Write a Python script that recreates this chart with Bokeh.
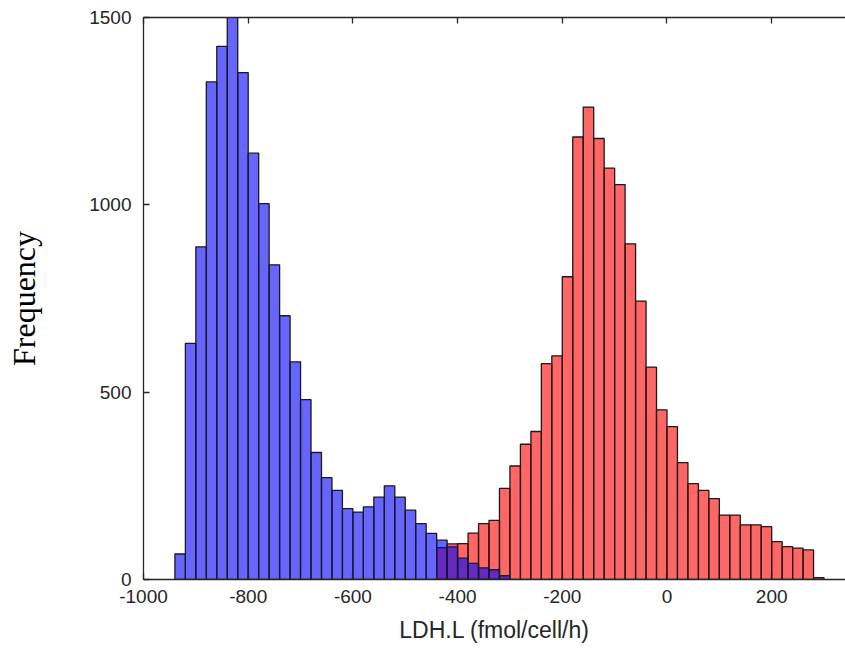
from bokeh.plotting import figure
from bokeh.models import LinearAxis, FixedTicker, Range1d, ColumnDataSource, CustomJSTickFormatter
from bokeh.embed import file_html
from bokeh.resources import INLINE

bin_width = 20
blue_left = list(range(-940, -300, 20))
blue_counts = [68, 630, 888, 1328, 1423, 1510, 1353, 1138, 1003, 840,
               704, 581, 480, 339, 272, 238, 189, 180, 194, 220,
               250, 220, 185, 149, 123, 105, 87, 57, 43, 31, 26, 10]
red_left = list(range(-440, 300, 20))
red_counts = [85, 95, 96, 124, 149, 158, 243, 303, 361, 395,
              576, 597, 808, 1181, 1261, 1177, 1098, 1054, 896, 743, 567, 453,
              408, 312, 256, 238, 216, 172, 172, 146, 146, 141, 101, 88, 84, 79, 5]
x_ticks = [-1000, -800, -600, -400, -200, 0, 200]
y_ticks = [0, 500, 1000, 1500]

red_src = ColumnDataSource(dict(left=red_left, right=[v + bin_width for v in red_left], top=red_counts))
blue_src = ColumnDataSource(dict(left=blue_left, right=[v + bin_width for v in blue_left], top=blue_counts))

axis_col = "#262626"
tick_font = "19px"
fmt_code = "return tick.toString();"

p = figure(width=845, height=652, output_backend="svg", toolbar_location=None,
           x_range=Range1d(-1000, 341), y_range=Range1d(0, 1500),
           x_axis_location=None, y_axis_location=None,
           min_border_left=143, min_border_right=0, min_border_top=17, min_border_bottom=73)
p.outline_line_color = None
p.grid.visible = False
p.background_fill_color = "white"
p.border_fill_color = "white"

p.quad(left="left", right="right", top="top", bottom=0, source=red_src,
       fill_color="#ff0000", fill_alpha=0.6, line_color="#1a1a1a", line_width=1.3)
p.quad(left="left", right="right", top="top", bottom=0, source=blue_src,
       fill_color="#0000ff", fill_alpha=0.6, line_color="#1a1a1a", line_width=1.3)

def style(ax):
    ax.axis_line_color = axis_col
    ax.axis_line_width = 1.3
    ax.major_tick_line_color = axis_col
    ax.major_tick_line_width = 1.3
    ax.major_tick_in = 6
    ax.major_tick_out = 0
    ax.minor_tick_line_color = None
    ax.major_label_text_color = axis_col
    ax.major_label_text_font = "Liberation Sans"
    ax.major_label_text_font_size = tick_font
    ax.formatter = CustomJSTickFormatter(code=fmt_code)

xb = LinearAxis(ticker=FixedTicker(ticks=x_ticks))
style(xb)
xb.major_label_standoff = 10
xb.axis_label = "LDH.L (fmol/cell/h)"
xb.axis_label_text_font = "Liberation Sans"
xb.axis_label_text_font_size = "23px"
xb.axis_label_text_font_style = "normal"
xb.axis_label_text_color = axis_col
xb.axis_label_standoff = 11
p.add_layout(xb, "below")

xt = LinearAxis(ticker=FixedTicker(ticks=x_ticks))
style(xt)
xt.major_label_text_font_size = "0px"
xt.major_label_text_color = None
p.add_layout(xt, "above")

yl = LinearAxis(ticker=FixedTicker(ticks=y_ticks))
style(yl)
yl.major_label_standoff = 12
yl.axis_label = "Frequency"
yl.axis_label_text_font = "Liberation Serif"
yl.axis_label_text_font_size = "32px"
yl.axis_label_text_font_style = "normal"
yl.axis_label_text_color = "black"
yl.axis_label_standoff = 44
p.add_layout(yl, "left")

open("out.html", "w").write(file_html(p, INLINE))
